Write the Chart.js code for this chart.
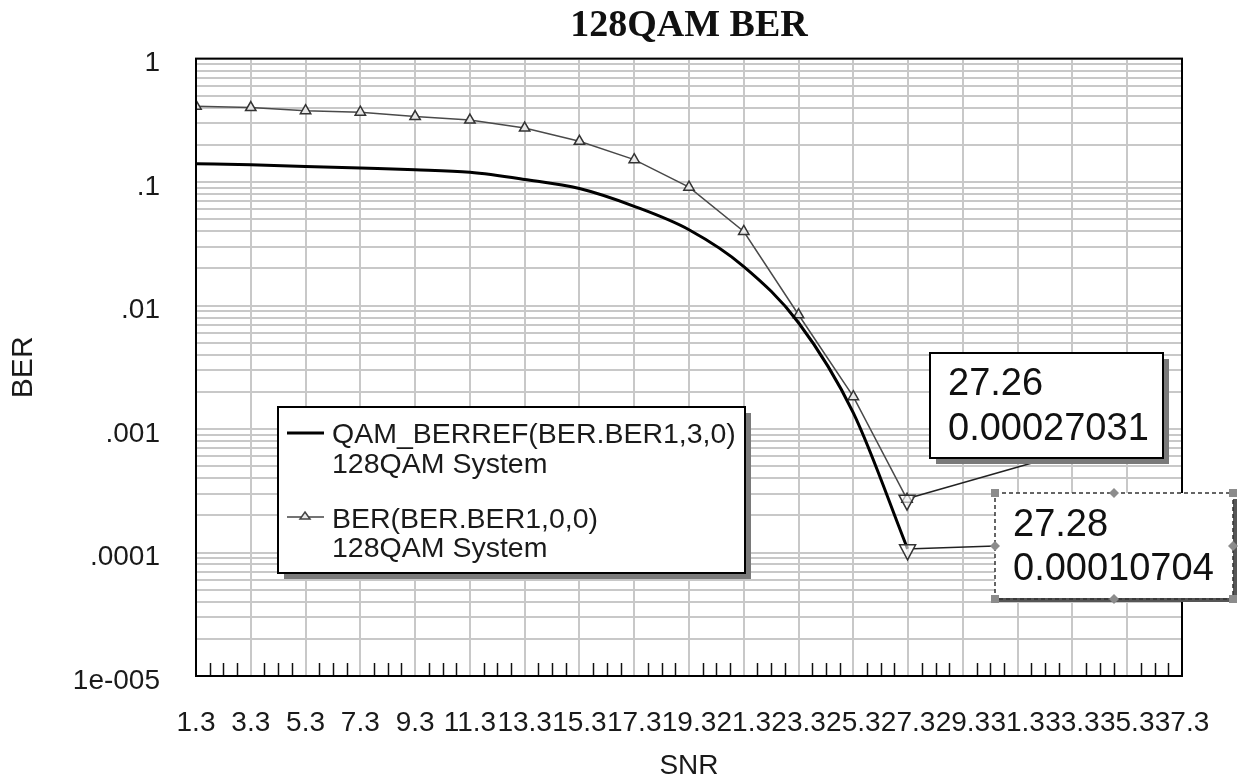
<!DOCTYPE html>
<html>
<head>
<meta charset="utf-8">
<script src="https://cdn.jsdelivr.net/npm/chart.js@4.4.1/dist/chart.umd.min.js"></script>
<style>
html,body{margin:0;padding:0;background:#ffffff;}
#wrap{width:1240px;height:780px;position:relative;}
</style>
</head>
<body>
<div id="wrap"><canvas id="c" width="1240" height="780"></canvas></div>
<script>
// ---- chart text ----
const chartTitle = '128QAM BER';
const xAxisTitle = 'SNR';
const yAxisTitle = 'BER';

// ---- tick labels ----
const xTickLabels = ['1.3','3.3','5.3','7.3','9.3','11.3','13.3','15.3','17.3','19.3','21.3','23.3','25.3','27.3','29.3','31.3','33.3','35.3','37.3'];
const yDecades = [1e-5, 1e-4, 1e-3, 1e-2, 1e-1, 1];
const yTickLabels = ['1e-005', '.0001', '.001', '.01', '.1', '1'];

// ---- series: QAM_BERREF (thick line) ----
const refName = ['QAM_BERREF(BER.BER1,3,0)', '128QAM System'];
const refSnr = [1.3, 3.3, 5.3, 7.3, 9.3, 11.3, 13.3, 15.3, 17.3, 19.3, 21.3, 23.3, 25.3, 27.28];
const refBer = [0.141, 0.138, 0.134, 0.130, 0.126, 0.120, 0.105, 0.0886, 0.0636, 0.0411, 0.0207, 0.00726, 0.00135, 0.00010704];

// ---- series: BER (triangles) ----
const simName = ['BER(BER.BER1,0,0)', '128QAM System'];
const simSnr = [1.3, 3.3, 5.3, 7.3, 9.3, 11.3, 13.3, 15.3, 17.3, 19.3, 21.3, 23.3, 25.3, 27.26];
const simBer = [0.412, 0.401, 0.379, 0.368, 0.339, 0.318, 0.274, 0.214, 0.152, 0.0910, 0.0398, 0.00842, 0.00183, 0.00027031];

// ---- marker readouts ----
const simReadout = ['27.26', '0.00027031'];
const refReadout = ['27.28', '0.00010704'];

// ---------------------------------------------------------------
const SANS = "'Liberation Sans', Arial, sans-serif";
const SERIF = "'Liberation Serif', 'Times New Roman', serif";

const yGrid = [];
yDecades.forEach((d, i) => {
  yGrid.push({ value: d, lbl: yTickLabels[i] });
  if (i < yDecades.length - 1) {
    for (let k = 2; k <= 9; k++) yGrid.push({ value: k * d, lbl: '' });
  }
});
const xMajor = xTickLabels.map(l => ({ value: parseFloat(l), lbl: l }));

function pts(xs, ys) { return xs.map((x, i) => ({ x: x, y: ys[i] })); }

const deco = {
  id: 'deco',
  afterDatasetsDraw(chart) {
    const ctx = chart.ctx;
    const a = chart.chartArea;
    const xs = chart.scales.x;
    ctx.save();
    // minor x ticks (inside, from bottom)
    ctx.strokeStyle = '#111';
    ctx.lineWidth = 1.5;
    for (let i = 0; i < xMajor.length - 1; i++) {
      const v0 = xMajor[i].value, v1 = xMajor[i + 1].value;
      for (let q = 1; q <= 3; q++) {
        const px = Math.round(xs.getPixelForValue(v0 + (v1 - v0) * q / 4)) + 0.5;
        ctx.beginPath();
        ctx.moveTo(px, a.bottom);
        ctx.lineTo(px, a.bottom - 13);
        ctx.stroke();
      }
    }
    // plot frame
    ctx.strokeStyle = '#000';
    ctx.lineWidth = 2;
    ctx.strokeRect(a.left, a.top, a.right - a.left, a.bottom - a.top);

    // connectors and end markers
    const simPt = chart.getDatasetMeta(1).data[simSnr.length - 1];
    const refPt = chart.getDatasetMeta(0).data[refSnr.length - 1];
    ctx.strokeStyle = '#222';
    ctx.lineWidth = 1.5;
    ctx.beginPath();
    ctx.moveTo(simPt.x + 5, simPt.y - 2);
    ctx.lineTo(1032, 463);
    ctx.stroke();
    ctx.beginPath();
    ctx.moveTo(refPt.x + 6, refPt.y);
    ctx.lineTo(995, 546);
    ctx.stroke();

    [simPt, refPt].forEach(p => {
      ctx.beginPath();
      ctx.moveTo(p.x - 8, p.y - 4);
      ctx.lineTo(p.x + 8, p.y - 4);
      ctx.lineTo(p.x, p.y + 11);
      ctx.closePath();
      ctx.fillStyle = 'rgba(255,255,255,0.6)';
      ctx.fill();
      ctx.strokeStyle = '#333';
      ctx.lineWidth = 1.5;
      ctx.stroke();
    });
    ctx.restore();
  },
  afterDraw(chart) {
    const ctx = chart.ctx;
    ctx.save();
    // ---- legend box ----
    const L = { x: 278, y: 407, w: 467, h: 166 };
    ctx.fillStyle = '#7a7a7a';
    ctx.fillRect(L.x + 6, L.y + 6, L.w, L.h);
    ctx.fillStyle = '#fff';
    ctx.fillRect(L.x, L.y, L.w, L.h);
    ctx.strokeStyle = '#000';
    ctx.lineWidth = 2;
    ctx.strokeRect(L.x, L.y, L.w, L.h);

    ctx.font = '28.5px ' + SANS;
    ctx.fillStyle = '#1a1a1a';
    ctx.textBaseline = 'alphabetic';
    ctx.textAlign = 'left';
    ctx.fillText(refName[0], 332, 443);
    ctx.fillText(refName[1], 332, 473);
    ctx.fillText(simName[0], 332, 528);
    ctx.fillText(simName[1], 332, 557);
    // samples
    ctx.strokeStyle = '#000';
    ctx.lineWidth = 3;
    ctx.beginPath(); ctx.moveTo(287, 433); ctx.lineTo(324, 433); ctx.stroke();
    ctx.strokeStyle = '#444';
    ctx.lineWidth = 1.5;
    ctx.beginPath(); ctx.moveTo(287, 517); ctx.lineTo(324, 517); ctx.stroke();
    ctx.beginPath();
    ctx.moveTo(305, 512); ctx.lineTo(310, 519); ctx.lineTo(300, 519); ctx.closePath();
    ctx.fillStyle = '#e8e8e8'; ctx.fill(); ctx.stroke();

    // ---- readout box 1 (solid with shadow) ----
    const B1 = { x: 930, y: 353, w: 233, h: 105 };
    ctx.fillStyle = '#7a7a7a';
    ctx.fillRect(B1.x + 6, B1.y + 6, B1.w, B1.h);
    ctx.fillStyle = '#fff';
    ctx.fillRect(B1.x, B1.y, B1.w, B1.h);
    ctx.strokeStyle = '#000';
    ctx.lineWidth = 2;
    ctx.strokeRect(B1.x, B1.y, B1.w, B1.h);
    ctx.font = '38px ' + SANS;
    ctx.fillStyle = '#111';
    ctx.fillText(simReadout[0], 948, 395);
    ctx.fillText(simReadout[1], 948, 440);

    // ---- readout box 2 (selected, dashed, with handles) ----
    const B2 = { x: 995, y: 493, w: 238, h: 106 };
    ctx.fillStyle = '#fff';
    ctx.fillRect(B2.x, B2.y, B2.w, B2.h);
    ctx.strokeStyle = '#555';
    ctx.lineWidth = 4;
    ctx.beginPath();
    ctx.moveTo(B2.x + 4, B2.y + B2.h + 1); ctx.lineTo(B2.x + B2.w + 2, B2.y + B2.h + 1);
    ctx.moveTo(B2.x + B2.w + 2, B2.y + 6); ctx.lineTo(B2.x + B2.w + 2, B2.y + B2.h + 1);
    ctx.stroke();
    ctx.setLineDash([4, 3]);
    ctx.strokeStyle = '#333';
    ctx.lineWidth = 1.5;
    ctx.strokeRect(B2.x, B2.y, B2.w, B2.h);
    ctx.setLineDash([]);
    ctx.font = '38px ' + SANS;
    ctx.fillStyle = '#111';
    ctx.fillText(refReadout[0], 1013, 536);
    ctx.fillText(refReadout[1], 1013, 580);
    // handles
    ctx.fillStyle = '#8c8c8c';
    [[B2.x, B2.y], [B2.x + B2.w, B2.y], [B2.x, B2.y + B2.h], [B2.x + B2.w, B2.y + B2.h]].forEach(([hx, hy]) => {
      ctx.fillRect(hx - 4, hy - 4, 8, 8);
    });
    [[B2.x + B2.w / 2, B2.y], [B2.x + B2.w / 2, B2.y + B2.h], [B2.x, B2.y + B2.h / 2], [B2.x + B2.w, B2.y + B2.h / 2]].forEach(([hx, hy]) => {
      ctx.beginPath();
      ctx.moveTo(hx, hy - 5); ctx.lineTo(hx + 5, hy); ctx.lineTo(hx, hy + 5); ctx.lineTo(hx - 5, hy);
      ctx.closePath(); ctx.fill();
    });
    ctx.restore();
  }
};

Chart.defaults.font.family = SANS;
Chart.defaults.color = '#1a1a1a';

new Chart(document.getElementById('c'), {
  type: 'line',
  data: {
    datasets: [
      {
        label: refName.join(' '),
        data: pts(refSnr, refBer),
        borderColor: '#000',
        borderWidth: 3,
        pointRadius: 0,
        cubicInterpolationMode: 'monotone',
        fill: false
      },
      {
        label: simName.join(' '),
        data: pts(simSnr, simBer),
        borderColor: '#4a4a4a',
        borderWidth: 1.5,
        pointStyle: 'triangle',
        pointRadius: 6,
        pointBorderWidth: 1.5,
        pointBorderColor: '#333',
        pointBackgroundColor: '#e6e6e6',
        tension: 0,
        fill: false
      }
    ]
  },
  options: {
    responsive: false,
    animation: false,
    devicePixelRatio: 1,
    layout: { padding: { left: 0, right: 58, top: 0, bottom: 0 } },
    plugins: {
      legend: { display: false },
      tooltip: { enabled: false },
      title: {
        display: true,
        fullSize: false,
        text: chartTitle,
        color: '#111',
        font: { family: SERIF, size: 38, weight: 'bold', lineHeight: 1.2 },
        padding: { top: 3, bottom: 10 }
      }
    },
    scales: {
      x: {
        type: 'linear',
        min: 1.3,
        max: 37.3,
        afterBuildTicks: s => { s.ticks = xMajor.map(t => ({ value: t.value, lbl: t.lbl })); },
        afterFit: s => { s.height = 104; },
        ticks: {
          autoSkip: false, maxRotation: 0, minRotation: 0, padding: 30,
          color: '#1a1a1a',
          font: { family: SANS, size: 28 },
          callback: (v, i, t) => t[i].lbl
        },
        grid: { color: '#c8c8c8', lineWidth: 2, drawTicks: false },
        border: { display: true, color: '#000', width: 2 },
        title: {
          display: true, text: xAxisTitle, color: '#1a1a1a',
          font: { family: SANS, size: 28, lineHeight: 1 },
          padding: { top: 0, bottom: 0 }
        }
      },
      y: {
        type: 'logarithmic',
        min: 1e-5,
        max: 1,
        afterBuildTicks: s => { s.ticks = yGrid.map(t => ({ value: t.value, lbl: t.lbl })); },
        afterFit: s => { s.width = 196; },
        ticks: {
          autoSkip: false, padding: 36, labelOffset: 5,
          color: '#1a1a1a',
          font: { family: SANS, size: 28 },
          callback: (v, i, t) => t[i].lbl
        },
        grid: { color: '#c8c8c8', lineWidth: 2, drawTicks: false },
        border: { display: true, color: '#000', width: 2 },
        title: {
          display: true, text: yAxisTitle, color: '#1a1a1a',
          font: { family: SANS, size: 30, lineHeight: 1 },
          padding: { top: 9, bottom: 0 }
        }
      }
    }
  },
  plugins: [deco]
});
</script>
</body>
</html>
